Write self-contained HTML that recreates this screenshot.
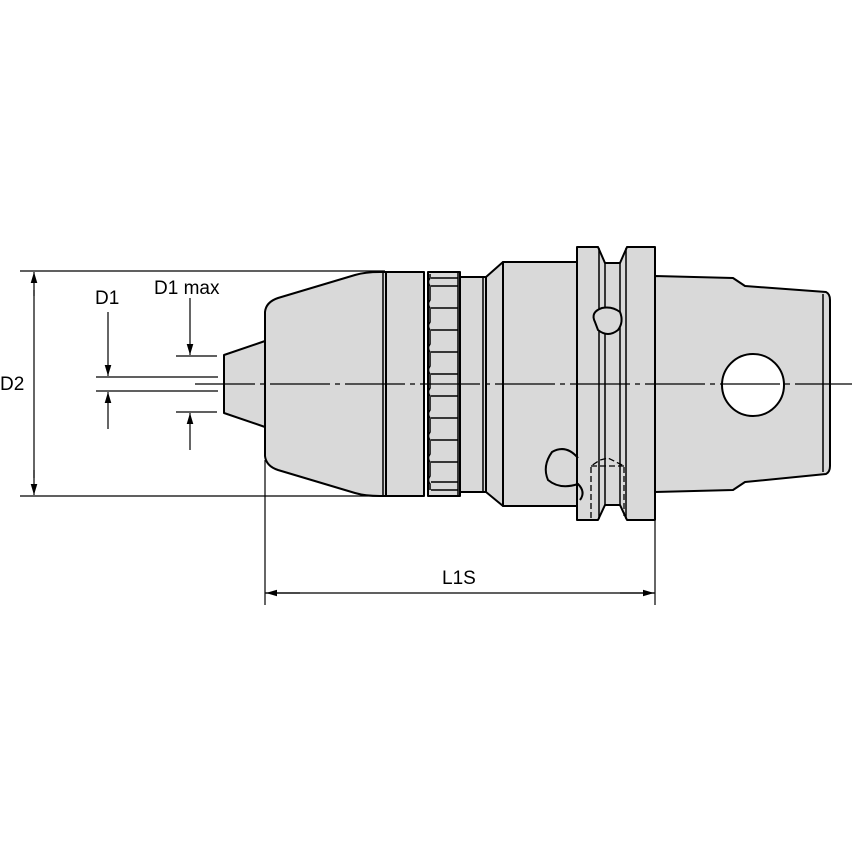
<!DOCTYPE html>
<html><head><style>html,body{margin:0;padding:0;background:#fff}svg{display:block}</style></head>
<body>
<svg width="854" height="854" viewBox="0 0 854 854" xmlns="http://www.w3.org/2000/svg" font-family="Liberation Sans, sans-serif">
<defs>
<marker id="a" viewBox="0 0 10 10" refX="10" refY="5" markerWidth="11" markerHeight="11" markerUnits="userSpaceOnUse" orient="auto"><path d="M0,2 L10,5 L0,8 z" fill="#000"/></marker>
</defs>
<g fill="#d9d9d9" stroke="#000" stroke-width="2" stroke-linejoin="round">
<path d="M224,355 L265,341 L265,427 L224,413 Z"/>
<path d="M265,312 Q266,302 278,298 L355,275 Q365,272 380,272 L386,272 L386,496 L380,496 Q365,496 355,493 L278,470 Q266,466 265,456 Z"/>
<rect x="386" y="272" width="38" height="224"/>
<rect x="428" y="272" width="32" height="224"/>
<rect x="460" y="277" width="26" height="215"/>
<path d="M486,277 L503,262 L503,506 L486,492 Z"/>
<rect x="503" y="262" width="74" height="244"/>
<path d="M577,247 L598,247 L605,263 L620,263 L627,247 L655,247 L655,520 L627,520 L620,505 L605,505 L598,520 L577,520 Z"/>
<path d="M655,276 L733,278 L745,286 L826,292 Q830,294 830,300 L830,466 Q830,472 826,474 L745,482 L733,490 L655,492 Z"/>
</g>
<g stroke="#000" stroke-width="1.5" fill="none">
<line x1="383" y1="273" x2="383" y2="495"/>
<line x1="458" y1="273" x2="458" y2="495"/>
<line x1="483" y1="278" x2="483" y2="491"/>
<line x1="599" y1="248" x2="599" y2="519"/>
<line x1="605" y1="263" x2="605" y2="505"/>
<line x1="620" y1="263" x2="620" y2="505"/>
<line x1="626" y1="248" x2="626" y2="519"/>
<line x1="823" y1="294" x2="823" y2="472"/>
<path d="M595,322 Q590,312 602,308 Q612,306 620,312 Q624,322 618,330 Q608,338 598,330 Z" fill="#d9d9d9" stroke-width="2"/>
<path d="M578,458 Q566,444 552,452 Q542,466 548,480 Q560,490 578,484 Q586,492 580,500" stroke-width="2"/>
<g stroke-dasharray="6,3" stroke-width="1.3"><path d="M591,518 L591,466 L600,460 L608,458 L624,466 L624,516"/><line x1="591" y1="466" x2="624" y2="466"/></g>
</g>
<g stroke="#000" stroke-width="1.5" fill="none">
<path d="M430,274 v4 q-3,4 0,8 v14 q-3,4 0,8 v14 q-3,4 0,8 v14 q-3,4 0,8 v14 q-3,4 0,8 v14 q-3,4 0,8 v14 q-3,4 0,8 v14 q-3,4 0,8 v14 q-3,4 0,8 v14 q-3,4 0,8 v6"/>
<path d="M431,278 h27 M431,286 h27 M431,308 h27 M431,330 h27 M431,352 h27 M431,374 h27 M431,396 h27 M431,418 h27 M431,440 h27 M431,462 h27 M431,482 h27 M431,490 h27"/>
</g>
<circle cx="753" cy="385" r="31" fill="#fff" stroke="#000" stroke-width="2"/>
<line x1="195" y1="384" x2="852" y2="384" stroke="#000" stroke-width="1.2" stroke-dasharray="60,5,5,5"/>
<g stroke="#000" stroke-width="1.2">
<line x1="20" y1="271" x2="385" y2="271"/>
<line x1="20" y1="496" x2="385" y2="496"/>
<line x1="34" y1="296" x2="34" y2="272" marker-end="url(#a)"/>
<line x1="34" y1="470" x2="34" y2="495" marker-end="url(#a)"/>
<line x1="34" y1="290" x2="34" y2="478"/>
<line x1="96" y1="377" x2="218" y2="377"/>
<line x1="96" y1="391" x2="218" y2="391"/>
<line x1="108" y1="312" x2="108" y2="376" marker-end="url(#a)"/>
<line x1="108" y1="429" x2="108" y2="392" marker-end="url(#a)"/>
<line x1="176" y1="356" x2="217" y2="356"/>
<line x1="176" y1="412" x2="217" y2="412"/>
<line x1="190" y1="298" x2="190" y2="355" marker-end="url(#a)"/>
<line x1="190" y1="450" x2="190" y2="413" marker-end="url(#a)"/>
<line x1="265" y1="460" x2="265" y2="605"/>
<line x1="655" y1="521" x2="655" y2="605"/>
<line x1="265" y1="593" x2="655" y2="593"/>
<line x1="300" y1="593" x2="266" y2="593" marker-end="url(#a)"/>
<line x1="620" y1="593" x2="654" y2="593" marker-end="url(#a)"/>
</g>
<g font-size="19" fill="#000">
<text x="0" y="390">D2</text>
<text x="95" y="304">D1</text>
<text x="154" y="294">D1 max</text>
<text x="442" y="584">L1S</text>
</g>
</svg>
</body></html>
